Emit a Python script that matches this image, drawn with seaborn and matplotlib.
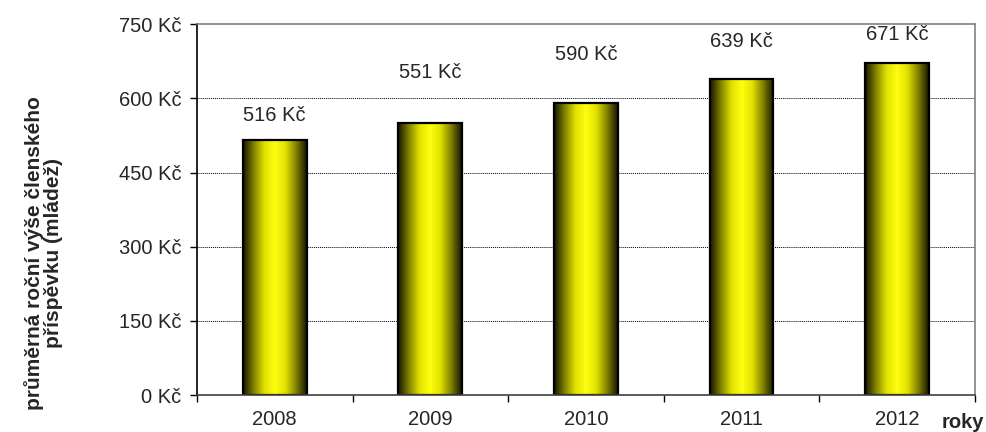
import numpy as np
import pandas as pd
import seaborn as sns
import matplotlib.pyplot as plt
from matplotlib.colors import LinearSegmentedColormap

years = ['2008', '2009', '2010', '2011', '2012']
values = [516, 551, 590, 639, 671]
y_ticks = [0, 150, 300, 450, 600, 750]
# how far above the bar top each label sits (points)
label_offsets = [18, 36, 35, 27, 21]

df = pd.DataFrame({'rok': years, 'prispevek': values})

sns.set_style('white')
plt.rcParams['font.family'] = ['Liberation Sans', 'DejaVu Sans']
fs = 14.5

fig = plt.figure(figsize=(9.86, 4.32), dpi=100)
ax = fig.add_axes([0.1998, 0.0856, 0.789, 0.858])

ax = sns.barplot(data=df, x='rok', y='prispevek', width=0.41, color='yellow',
                 edgecolor='black', linewidth=1.6, ax=ax)

# cylinder-like yellow gradient inside each bar
cmap = LinearSegmentedColormap.from_list('cyl', ['#141400', '#808000', '#e0e000', '#ffff10',
                                                  '#e0e000', '#808000', '#141400'])
grad = np.linspace(0, 1, 256).reshape(1, -1)
for p in ax.patches:
    x0, y0 = p.get_x(), p.get_y()
    w, h = p.get_width(), p.get_height()
    im = ax.imshow(grad, cmap=cmap, aspect='auto', extent=[x0, x0 + w, y0, y0 + h],
                   zorder=1.5, interpolation='bicubic')
    im.set_clip_path(p)
    p.set_facecolor('none')
    p.set_zorder(2)

ax.set_xlim(-0.5, 4.5)
ax.set_ylim(0, 750)

for i, v in enumerate(values):
    ax.annotate(f'{v} Kč', (i, v), xytext=(0, label_offsets[i]), textcoords='offset points',
                ha='center', va='center', fontsize=fs)

ax.set_yticks(y_ticks)
ax.set_yticklabels([f'{t} Kč' for t in y_ticks], fontsize=fs)
ax.set_xticks(range(len(years)))
ax.set_xticklabels(years, fontsize=fs)
ax.set_xticks(np.arange(-0.5, 5, 1), minor=True)
ax.tick_params(axis='x', which='major', length=0, pad=11)
ax.tick_params(axis='x', which='minor', length=5, width=1, color='black', direction='out', bottom=True)
ax.tick_params(axis='y', length=5, width=1, color='black', direction='out', left=True, pad=6)

for t in y_ticks[1:-1]:
    ax.axhline(t, color='black', linestyle=(0, (1, 1)), linewidth=0.7, zorder=1)

ax.spines['left'].set_color('black')
ax.spines['bottom'].set_color('#404040')
ax.spines['top'].set_color('#808080')
ax.spines['right'].set_color('#808080')
for s in ax.spines.values():
    s.set_linewidth(1.2)

ax.set_xlabel('')
ax.set_ylabel('')
fig.text(0.044, 0.414, 'průměrná roční výše členského\npříspěvku (mládež)', rotation=90,
         ha='center', va='center', fontsize=15, fontweight='bold', linespacing=1.0)
fig.text(0.998, 0.021, 'roky', ha='right', va='center', fontsize=fs, fontweight='bold')

fig.savefig('out.png', dpi=100)
